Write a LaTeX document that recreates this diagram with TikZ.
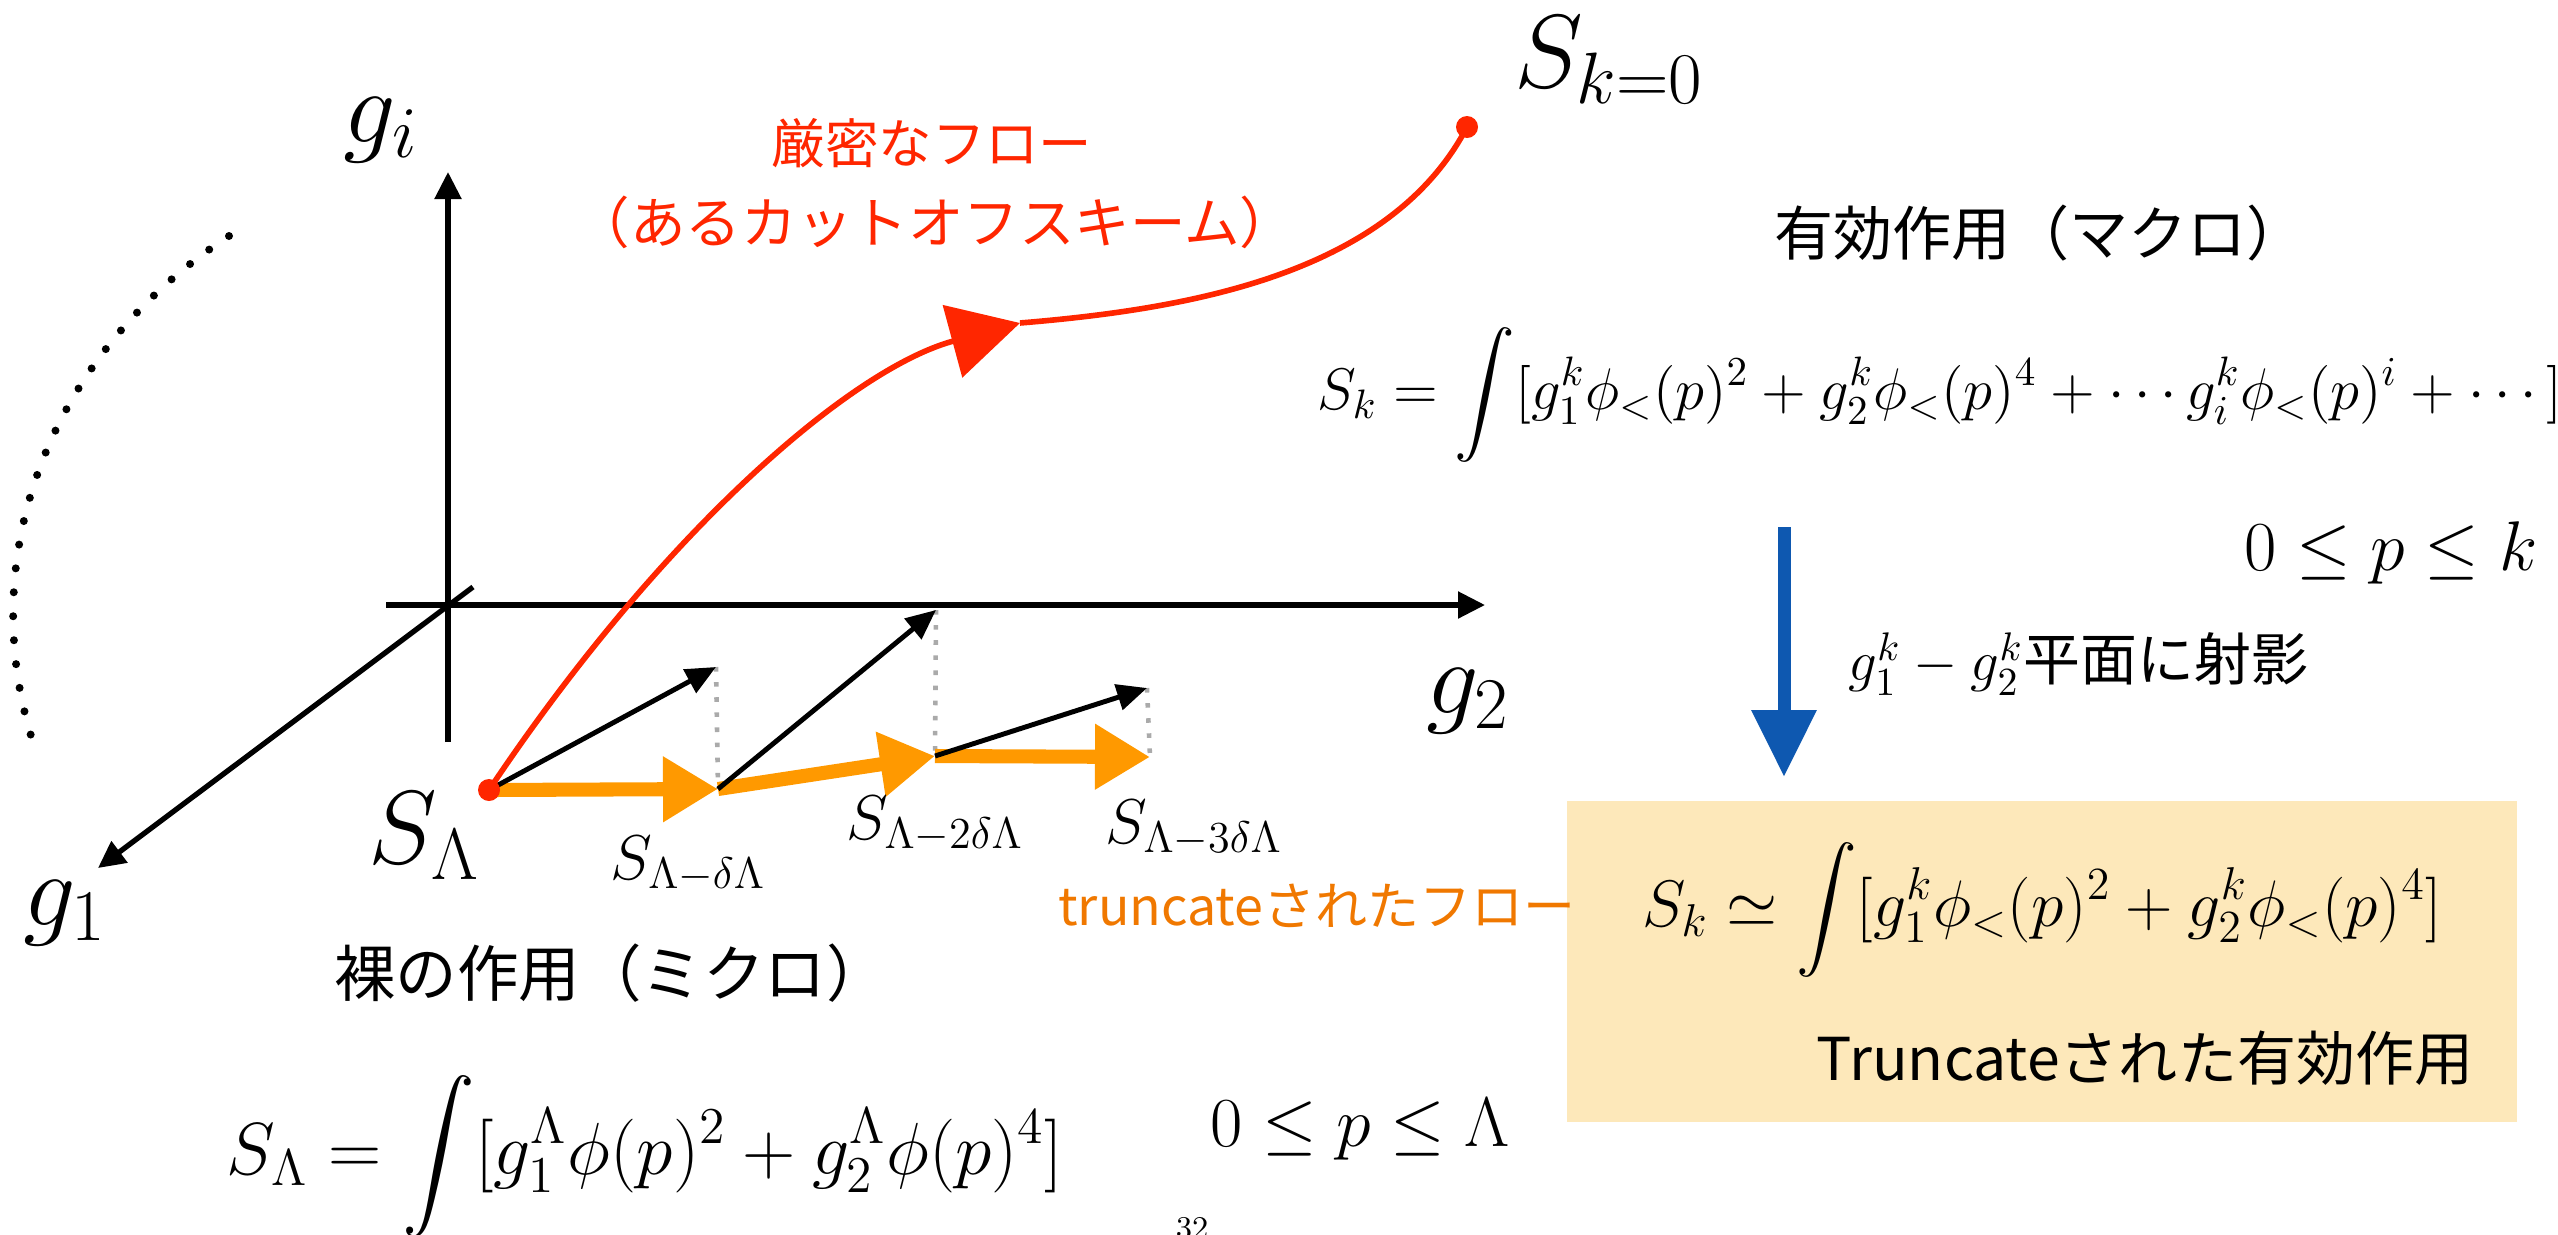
\RequirePackage{fix-cm}
\documentclass[tikz,border=0pt]{standalone}
\usepackage{amsmath}
\usepackage{fontspec}
\newfontfamily\jpfont{Noto Sans CJK JP}
\usepackage{tikz}
\usetikzlibrary{arrows.meta, calc}
\definecolor{flowred}{RGB}{255, 38, 0}
\definecolor{flowtext}{RGB}{240, 120, 0}
\definecolor{floworange}{RGB}{255, 153, 0}
\definecolor{projblue}{RGB}{14, 88, 176}
\definecolor{boxyellow}{RGB}{253, 232, 186}
\definecolor{dotgray}{RGB}{170, 170, 170}

\begin{document}
\begin{tikzpicture}[>=Stealth,
    axis/.style={line width=1.5pt, -{Triangle[length=0.27cm, width=0.26cm]}},
    vec/.style={line width=1.4pt, -{Triangle[length=0.3cm, width=0.26cm]}},
    trunc/.style={line width=4pt, floworange, -{Triangle[length=0.55cm, width=0.62cm]}},
    proj/.style={dotgray, line width=1.3pt, dash pattern=on 1.3pt off 3pt},
    flow/.style={flowred, line width=1.6pt},
    pt/.style={circle, fill=flowred, inner sep=0pt, minimum size=0.22cm},
    biglabel/.style={inner sep=0pt, font=\fontsize{29.6}{32}\selectfont},
    sublabel/.style={inner sep=0pt, font=\fontsize{18}{20}\selectfont},
    jp/.style={inner sep=0pt, font=\jpfont\fontsize{14.8}{18}\selectfont}]
  \useasboundingbox (0,0) rectangle (25.58,12.34);
  % axes of the coupling space
  \coordinate (O)   at (4.48,6.29);
  \coordinate (gib) at (4.48,4.92);
  \coordinate (git) at (4.48,10.62);
  \coordinate (g2l) at (3.86,6.29);
  \coordinate (g2r) at (14.85,6.29);
  \coordinate (g1t) at (4.73,6.47);
  \coordinate (g1b) at (0.98,3.66);
  \draw[axis] (gib) -- (git);
  \draw[axis] (g2l) -- (g2r);
  \draw[axis] (g1t) -- (g1b);
  \node[biglabel] (gi) at (3.81,11.04) {$g_i$};
  \node[biglabel] (g1) at (0.65,3.21) {$g_1$};
  \node[biglabel] (g2) at (14.68,5.33) {$g_2$};
  % further couplings
  \draw[line width=0.08cm, line cap=round, dash pattern=on 0pt off 0.24cm]
    (2.29,9.98) arc[start angle=126.3, end angle=197.3, x radius=5.29, y radius=4.70];

  % truncated flow steps
  \coordinate (P0) at (4.89,4.44);
  \coordinate (P1) at (7.18,4.45);
  \coordinate (P2) at (9.35,4.78);
  \coordinate (P3) at (11.50,4.77);
  \coordinate (B1) at (7.16,5.67);
  \coordinate (B2) at (9.36,6.24);
  \coordinate (B3) at (11.47,5.46);
  \draw[proj] (B1) -- (P1);
  \draw[proj] (B2) -- (P2);
  \draw[proj] (B3) -- (P3);
  \draw[trunc] (P0) -- (P1);
  \draw[trunc] (P1) -- (P2);
  \draw[trunc] (P2) -- (P3);
  \draw[vec] (P0) -- (B1);
  \draw[vec] (P1) -- (B2);
  \draw[vec] (P2) -- (B3);
  \node[biglabel] (SL) at (4.24,3.98) {$S_\Lambda$};
  \node[sublabel] (S1) at (6.88,3.70) {$S_{\Lambda-\delta\Lambda}$};
  \node[sublabel] (S2) at (9.35,4.10) {$S_{\Lambda-2\delta\Lambda}$};
  \node[sublabel] (S3) at (11.94,4.06) {$S_{\Lambda-3\delta\Lambda}$};

  % exact flow
  \coordinate (Pk) at (14.67,11.07);
  \coordinate (mid) at (10.20,9.11);
  \draw[flow, -{Triangle[length=0.70cm, width=0.74cm]}] (P0) .. controls (6.6,7.0) and (8.5,8.65) .. (mid);
  \draw[flow] (mid) .. controls (11.9,9.25) and (13.9,9.6) .. (Pk);
  \node[pt] (dotL) at (P0) {};
  \node[pt] (dotk) at (Pk) {};
  \node[biglabel] (Sk0) at (16.09,11.74) {$S_{k=0}$};
  \node[jp, flowred, font=\jpfont\fontsize{15.2}{18}\selectfont] (exact) at (9.32,10.91) {厳密なフロー};
  \node[jp, flowred, font=\jpfont\fontsize{15.8}{18}\selectfont] (scheme) at (9.35,10.12) {（あるカットオフスキーム）};

  % effective action
  \node[jp, font=\jpfont\fontsize{16.8}{18}\selectfont] (macro) at (20.40,10.01) {有効作用（マクロ）};
  \node[inner sep=0pt, font=\fontsize{16.7}{18}\selectfont] (Sk) at (19.40,8.39)
    {$S_k = \displaystyle\int [g_1^k\phi_<(p)^2 + g_2^k\phi_<(p)^4 + \cdots g_i^k\phi_<(p)^i + \cdots]$};
  \node[inner sep=0pt, font=\fontsize{20}{22}\selectfont] (krange) at (23.91,6.81) {$0\leq p\leq k$};
  \coordinate (pa) at (17.84,7.07);
  \coordinate (pb) at (17.84,4.57);
  \draw[projblue, line width=3.7pt, -{Triangle[length=0.67cm, width=0.62cm]}] (pa) -- (pb);
  \node[jp, anchor=west, font=\jpfont\fontsize{16.2}{18}\selectfont] (projlab) at (18.48,5.70) {$g_1^k - g_2^k$平面に射影};

  % truncated effective action
  \node[fill=boxyellow, inner sep=0pt, minimum width=9.5cm, minimum height=3.21cm] (tbox) at (20.42,2.725) {};
  \node[inner sep=0pt, font=\fontsize{18.7}{20}\selectfont] (Sktr) at (20.42,3.24)
    {$S_k \simeq \displaystyle\int [g_1^k\phi_<(p)^2 + g_2^k\phi_<(p)^4]$};
  \node[jp, font=\jpfont\fontsize{16.8}{18}\selectfont] (trlab) at (21.45,1.76) {Truncateされた有効作用};
  \node[jp, flowtext] (trflow) at (13.17,3.28) {truncateされたフロー};

  % bare action
  \node[jp, font=\jpfont\fontsize{17.5}{20}\selectfont] (micro) at (6.11,2.61) {裸の作用（ミクロ）};
  \node[inner sep=0pt, font=\fontsize{21}{23}\selectfont] (SLform) at (6.45,0.78)
    {$S_\Lambda = \displaystyle\int [g_1^\Lambda\phi(p)^2 + g_2^\Lambda\phi(p)^4]$};
  \node[inner sep=0pt, font=\fontsize{20}{22}\selectfont] (Lrange) at (13.60,1.05) {$0\leq p\leq \Lambda$};
  \node[inner sep=0pt, anchor=north, font=\fontsize{9}{10}\selectfont] (page) at (11.92,0.17) {32};
\end{tikzpicture}
\end{document}
